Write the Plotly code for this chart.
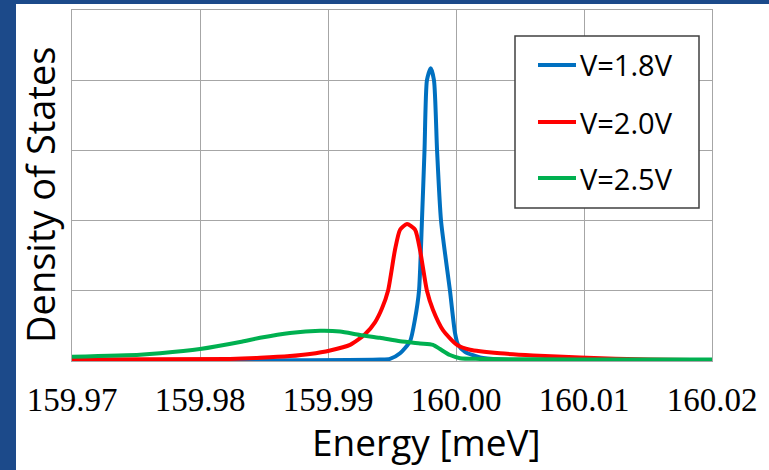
import plotly.graph_objects as go

# Energy [meV] and density of states values
e_blue = [159.97000, 159.98781, 159.99406, 159.99484, 159.99563, 159.99641, 159.99680,
          159.99711, 159.99734, 159.99754, 159.99773, 159.99802, 159.99828, 159.99852,
          159.99883, 159.99953, 159.99992, 160.00016, 160.00070, 160.00188, 160.00344,
          160.00734, 160.02000]
dos_blue = [0.00, 0.01, 0.02, 0.03, 0.11, 0.28, 0.60,
            1.00, 2.00, 3.00, 4.00, 4.17, 4.00, 3.00,
            2.00, 1.00, 0.40, 0.23, 0.13, 0.05, 0.02,
            0.00, 0.00]

e_red = [159.97000, 159.98234, 159.98469, 159.98703, 159.98859, 159.99016, 159.99172,
         159.99289, 159.99367, 159.99422, 159.99469, 159.99523, 159.99563, 159.99617,
         159.99680, 159.99719, 159.99773, 159.99820, 159.99898, 160.00008, 160.00109,
         160.00344, 160.00602, 160.00969, 160.01516, 160.02000]
dos_red = [0.02, 0.03, 0.045, 0.07, 0.10, 0.15, 0.23,
           0.38, 0.55, 0.75, 1.00, 1.58, 1.87, 1.95,
           1.87, 1.58, 1.00, 0.73, 0.44, 0.23, 0.16,
           0.11, 0.08, 0.05, 0.02, 0.01]

e_green = [159.97000, 159.97531, 159.97688, 159.98000, 159.98313, 159.98469, 159.98703,
           159.98938, 159.99094, 159.99250, 159.99406, 159.99563, 159.99719, 159.99820,
           159.99875, 159.99953, 160.00031, 160.00188, 160.00969, 160.02000]
dos_green = [0.06, 0.09, 0.11, 0.17, 0.27, 0.33, 0.40,
             0.43, 0.42, 0.37, 0.33, 0.28, 0.25, 0.23,
             0.17, 0.085, 0.04, 0.03, 0.02, 0.02]

names = ["V=1.8V", "V=2.0V", "V=2.5V"]
colors = ["#0070C0", "#FF0000", "#00B050"]
xs_all = [e_blue, e_red, e_green]
ys_all = [dos_blue, dos_red, dos_green]

x_ticks = [159.97, 159.98, 159.99, 160.00, 160.01, 160.02]
x_tick_labels = ["159.97", "159.98", "159.99", "160.00", "160.01", "160.02"]

# pixel -> paper helpers (plot area: x 72..712, y 10..361)
def px(x):
    return (x - 72) / 640

def py(y):
    return (361 - y) / 351

fig = go.Figure()
for name, xs, ys, col in zip(names, xs_all, ys_all, colors):
    fig.add_trace(go.Scatter(
        x=xs, y=ys, name=name, mode="lines",
        line=dict(color=col, width=4, shape="spline", smoothing=0.6),
    ))

shapes = [dict(
    type="rect", xref="paper", yref="paper", layer="below",
    x0=px(16), x1=1.2, y0=-0.5, y1=py(4),
    fillcolor="white", line=dict(width=0),
)]
# legend box
shapes.append(dict(type="rect", xref="paper", yref="paper", layer="above",
                   x0=px(515), x1=px(699), y0=py(208), y1=py(36),
                   fillcolor="white", line=dict(color="#404040", width=1.5)))
annotations = []
legend_rows = [65, 122, 178]
for name, col, ry in zip(names, colors, legend_rows):
    shapes.append(dict(type="line", xref="paper", yref="paper", layer="above",
                       x0=px(538), x1=px(576), y0=py(ry), y1=py(ry),
                       line=dict(color=col, width=4)))
    annotations.append(dict(text=name, xref="paper", yref="paper",
                            x=px(578), y=py(ry), xanchor="left", yanchor="middle",
                            showarrow=False,
                            font=dict(family="Open Sans", size=29, color="black")))

annotations += [
    dict(text="Energy [meV]", xref="paper", yref="paper",
         x=px(426.5), y=py(469), xanchor="center", yanchor="bottom",
         showarrow=False, font=dict(family="Open Sans", size=37, color="black")),
    dict(text="Density of States", xref="paper", yref="paper", textangle=-90,
         x=px(40), y=py(195), xanchor="center", yanchor="middle",
         showarrow=False, font=dict(family="Open Sans", size=38, color="black")),
]

grid = "#A6A6A6"
fig.update_layout(
    width=769, height=470,
    margin=dict(l=72, r=57, t=10, b=109),
    paper_bgcolor="#1C4A8A",
    plot_bgcolor="white",
    showlegend=False,
    xaxis=dict(
        range=[159.97, 160.02], tickvals=x_ticks, ticktext=x_tick_labels,
        showgrid=True, gridcolor=grid, gridwidth=1.3,
        showline=True, linecolor=grid, linewidth=1.3, mirror=True,
        zeroline=False, ticks="", ticklabelstandoff=9,
        tickfont=dict(family="Liberation Serif", size=33, color="black"),
    ),
    yaxis=dict(
        range=[0, 5], dtick=1, showticklabels=False,
        showgrid=True, gridcolor=grid, gridwidth=1.3,
        showline=True, linecolor=grid, linewidth=1.3, mirror=True,
        zeroline=False, ticks="",
    ),
    shapes=shapes,
    annotations=annotations,
)

fig.write_html("out.html")
